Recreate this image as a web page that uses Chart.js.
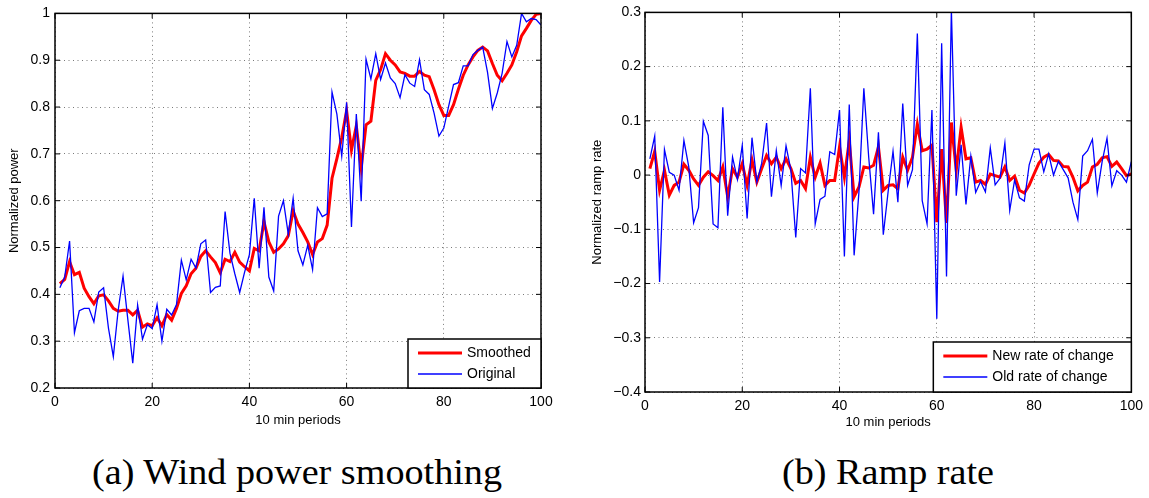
<!DOCTYPE html>
<html>
<head>
<meta charset="utf-8">
<script src="https://cdn.jsdelivr.net/npm/chart.js@4.4.0/dist/chart.umd.min.js"></script>
<style>
body { margin: 0; background: #fff; width: 1149px; height: 498px; position: relative; overflow: hidden; }
canvas { position: absolute; top: 0; }
#powerChart { left: 0; }
#rampChart { left: 575px; }
.caption { position: absolute; top: 455px; width: 600px; text-align: center; font-family: "Liberation Serif", serif; font-size: 35px; line-height: 35px; transform: scaleX(1.09); color: #000; }
</style>
</head>
<body>
<canvas id="powerChart" width="570" height="430"></canvas>
<canvas id="rampChart" width="574" height="430"></canvas>
<div class="caption" style="left:-3px">(a) Wind power smoothing</div>
<div class="caption" style="left:588px">(b) Ramp rate</div>
<script>
// 10 min periods 1..100
const periods = Array.from({length: 100}, (_, i) => i + 1);

const smoothed = [
  0.423, 0.432, 0.470, 0.442, 0.447, 0.413, 0.395, 0.380, 0.397, 0.399,
  0.386, 0.370, 0.364, 0.366, 0.366, 0.356, 0.366, 0.330, 0.337, 0.333,
  0.350, 0.333, 0.357, 0.345, 0.370, 0.402, 0.418, 0.444, 0.456, 0.481,
  0.493, 0.480, 0.468, 0.446, 0.475, 0.470, 0.490, 0.469, 0.459, 0.450,
  0.498, 0.493, 0.555, 0.512, 0.490, 0.497, 0.508, 0.525, 0.578, 0.550,
  0.532, 0.512, 0.485, 0.512, 0.519, 0.548, 0.648, 0.690, 0.735, 0.792,
  0.708, 0.760, 0.670, 0.762, 0.770, 0.857, 0.880, 0.914, 0.900, 0.890,
  0.875, 0.872, 0.866, 0.866, 0.876, 0.868, 0.865, 0.837, 0.805, 0.782,
  0.782, 0.805, 0.838, 0.868, 0.890, 0.907, 0.921, 0.928, 0.920, 0.893,
  0.868, 0.856, 0.872, 0.890, 0.918, 0.952, 0.968, 0.985, 0.998, 1.000
];

const original = [
  0.414, 0.437, 0.514, 0.318, 0.365, 0.370, 0.370, 0.341, 0.405, 0.414,
  0.328, 0.267, 0.366, 0.439, 0.345, 0.253, 0.377, 0.304, 0.335, 0.327,
  0.378, 0.300, 0.368, 0.356, 0.378, 0.473, 0.431, 0.475, 0.456, 0.508,
  0.516, 0.404, 0.415, 0.418, 0.577, 0.488, 0.444, 0.404, 0.447, 0.485,
  0.605, 0.456, 0.586, 0.437, 0.407, 0.567, 0.600, 0.528, 0.605, 0.493,
  0.463, 0.505, 0.453, 0.585, 0.566, 0.572, 0.832, 0.785, 0.695, 0.810,
  0.544, 0.785, 0.599, 0.902, 0.860, 0.914, 0.859, 0.894, 0.862, 0.850,
  0.820, 0.869, 0.851, 0.844, 0.901, 0.837, 0.827, 0.787, 0.738, 0.755,
  0.802, 0.848, 0.852, 0.888, 0.888, 0.912, 0.921, 0.928, 0.874, 0.797,
  0.830, 0.872, 0.940, 0.907, 0.932, 1.000, 0.982, 0.989, 0.987, 0.975
];

const newRate = [
  0.012, 0.044, -0.028, 0.009, -0.037, -0.019, -0.013, 0.020, 0.009, -0.007,
  -0.019, -0.004, 0.006, -0.001, -0.010, 0.015, -0.040, 0.012, -0.004, 0.021,
  -0.019, 0.028, -0.013, 0.012, 0.036, 0.021, 0.033, 0.012, 0.030, 0.012,
  -0.015, -0.010, -0.025, 0.033, -0.004, 0.022, -0.019, -0.010, -0.010, 0.052,
  -0.004, 0.063, -0.040, -0.022, 0.015, 0.013, 0.018, 0.052, -0.028, -0.019,
  -0.018, -0.025, 0.033, 0.009, 0.033, 0.094, 0.045, 0.048, 0.055, -0.087,
  0.048, -0.088, 0.097, 0.009, 0.088, 0.030, 0.032, -0.013, -0.010, -0.017,
  0.002, -0.001, -0.004, 0.015, -0.010, -0.002, -0.028, -0.033, -0.019, 0.002,
  0.022, 0.033, 0.038, 0.027, 0.026, 0.016, 0.015, -0.004, -0.029, -0.019,
  -0.013, 0.015, 0.020, 0.032, 0.034, 0.016, 0.024, 0.012, -0.001, 0.002
];

const oldRate = [
  0.030, 0.072, -0.197, 0.047, 0.005, 0.000, -0.028, 0.064, 0.015, -0.088,
  -0.060, 0.099, 0.073, -0.090, -0.097, 0.125, -0.075, 0.033, -0.008, 0.055,
  -0.080, 0.069, -0.013, 0.022, 0.096, -0.040, 0.045, -0.019, 0.054, 0.009,
  -0.115, 0.012, 0.004, 0.160, -0.090, -0.045, -0.039, 0.043, 0.038, 0.120,
  -0.150, 0.130, -0.148, -0.030, 0.160, 0.033, -0.072, 0.079, -0.110, -0.030,
  0.044, -0.050, 0.132, -0.019, 0.010, 0.261, -0.047, -0.090, 0.120, -0.265,
  0.243, -0.187, 0.305, -0.038, 0.056, -0.054, 0.035, -0.032, -0.012, -0.031,
  0.050, -0.018, -0.006, 0.059, -0.065, -0.009, -0.042, -0.048, 0.019, 0.048,
  0.048, 0.006, 0.039, 0.000, 0.025, 0.010, -0.005, -0.050, -0.082, 0.035,
  0.045, 0.066, -0.033, 0.025, 0.068, -0.020, 0.008, 0.000, -0.013, 0.025
];

const periodRange = [0, 100];
const powerRange = [0.2, 1];
const rampRange = [-0.4, 0.3];

Chart.defaults.font.family = '"Liberation Sans", Arial, sans-serif';
Chart.defaults.color = '#000';

function tickText(v) {
  if (Math.abs(v) < 1e-9) return '0';
  return String(parseFloat(v.toFixed(1))).replace('-', '\u2212');
}

// box round the plot, inward ticks and a boxed legend in the lower right corner
const matlabAxes = {
  id: 'matlabAxes',
  afterDraw(chart, args, opts) {
    const {ctx, chartArea: a, scales: {x, y}} = chart;
    ctx.save();
    ctx.strokeStyle = '#000';
    ctx.lineWidth = 1;
    ctx.beginPath();
    x.ticks.forEach(t => {
      const px = x.getPixelForValue(t.value);
      ctx.moveTo(px, a.bottom); ctx.lineTo(px, a.bottom - 5);
      ctx.moveTo(px, a.top); ctx.lineTo(px, a.top + 5);
    });
    y.ticks.forEach(t => {
      const py = y.getPixelForValue(t.value);
      ctx.moveTo(a.left, py); ctx.lineTo(a.left + 5, py);
      ctx.moveTo(a.right, py); ctx.lineTo(a.right - 5, py);
    });
    ctx.stroke();
    ctx.lineWidth = 1.5;
    ctx.strokeRect(a.left, a.top, a.right - a.left, a.bottom - a.top);

    const w = opts.width, h = opts.height;
    const bx = a.right - w, by = a.bottom - h;
    ctx.fillStyle = '#fff';
    ctx.fillRect(bx, by, w, h);
    ctx.strokeRect(bx, by, w, h);
    ctx.font = '14px "Liberation Sans", Arial, sans-serif';
    ctx.textBaseline = 'middle';
    chart.data.datasets.forEach((ds, i) => {
      const ly = by + 14 + i * 21;
      ctx.strokeStyle = ds.borderColor;
      ctx.lineWidth = ds.borderWidth;
      ctx.beginPath();
      ctx.moveTo(bx + 10, ly);
      ctx.lineTo(bx + 54, ly);
      ctx.stroke();
      ctx.fillStyle = '#000';
      ctx.fillText(ds.label, bx + 59, ly);
    });
    ctx.restore();
  }
};

function makeChart(id, sets, range, yTitle, lay) {
  return new Chart(document.getElementById(id), {
    type: 'line',
    data: {
      labels: periods,
      datasets: sets.map(s => ({
        label: s.label,
        data: periods.map((p, i) => ({x: p, y: s.values[i]})),
        borderColor: s.color,
        borderWidth: s.width,
        order: s.order,
        pointRadius: 0,
        tension: 0,
        fill: false
      }))
    },
    options: {
      responsive: false,
      animation: false,
      devicePixelRatio: 1,
      layout: { padding: { left: 0, top: lay.top, right: lay.right, bottom: 0 } },
      plugins: {
        legend: { display: false },
        tooltip: { enabled: false },
        matlabAxes: { width: lay.legendWidth, height: lay.legendHeight }
      },
      scales: {
        x: {
          type: 'linear',
          min: periodRange[0],
          max: periodRange[1],
          afterFit: s => { s.height = lay.xHeight; },
          ticks: { stepSize: 20, padding: lay.xPad, font: { size: 14 }, maxRotation: 0 },
          grid: { color: '#7a7a7a', lineWidth: 1, drawTicks: false },
          border: { display: false, dash: [1, 3.5] },
          title: { display: true, text: '10 min periods', font: { size: 13 }, padding: { top: 0, bottom: lay.titlePad } }
        },
        y: {
          min: range[0],
          max: range[1],
          afterFit: s => { s.width = lay.yWidth; },
          ticks: { stepSize: 0.1, padding: lay.yPad, font: { size: 14 }, callback: v => tickText(v) },
          grid: { color: '#7a7a7a', lineWidth: 1, drawTicks: false },
          border: { display: false, dash: [1, 3.5] },
          title: { display: true, text: yTitle, font: { size: 13 }, padding: { top: lay.yTitlePad, bottom: 0 } }
        }
      }
    },
    plugins: [matlabAxes]
  });
}

makeChart('powerChart', [
  { label: 'Smoothed', values: smoothed, color: '#ff0000', width: 3, order: 1 },
  { label: 'Original', values: original, color: '#0000ff', width: 1.3, order: 0 }
], powerRange, 'Normalized power',
  { top: 7, right: 29, xHeight: 42, yWidth: 55, xPad: 6, yPad: 5, titlePad: 2, yTitlePad: 7, legendWidth: 133, legendHeight: 49 });

makeChart('rampChart', [
  { label: 'New rate of change', values: newRate, color: '#ff0000', width: 3, order: 1 },
  { label: 'Old rate of change', values: oldRate, color: '#0000ff', width: 1.3, order: 0 }
], rampRange, 'Normalized ramp rate',
  { top: 12, right: 17, xHeight: 38, yWidth: 70, xPad: 6, yPad: 4, titlePad: 0, yTitlePad: 15, legendWidth: 198, legendHeight: 50 });
</script>
</body>
</html>
